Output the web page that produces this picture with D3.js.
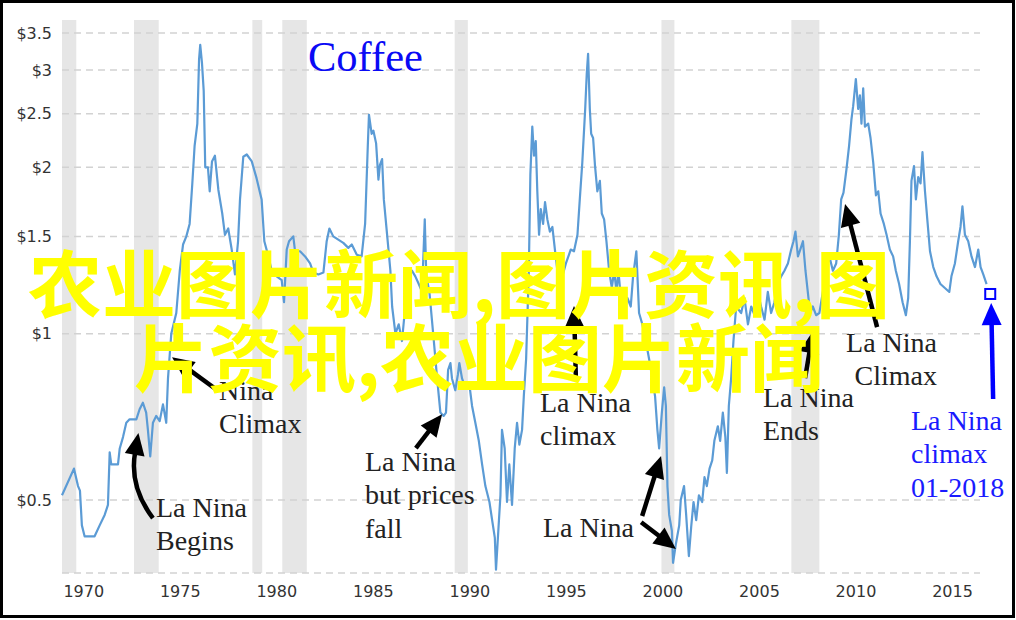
<!DOCTYPE html>
<html><head><meta charset="utf-8">
<script src="https://cdn.jsdelivr.net/npm/d3@7"></script>
<style>html,body{margin:0;padding:0;background:#fff;}svg{display:block;}</style>
</head><body>
<svg id="chart" width="1016" height="620"></svg>
<script>
// ---------- data ----------
const years = [1968.90,1969.52,1969.73,1969.83,1969.93,1970.07,1970.59,1970.85,1971.11,1971.28,1971.37,1971.45,1971.80,1971.89,1972.06,1972.23,1972.40,1972.75,1972.92,1973.09,1973.26,1973.35,1973.47,1973.61,1973.78,1973.96,1974.13,1974.30,1974.39,1974.56,1974.82,1975.00,1975.17,1975.34,1975.51,1975.65,1975.77,1975.91,1976.00,1976.06,1976.15,1976.24,1976.32,1976.46,1976.55,1976.67,1976.82,1977.00,1977.20,1977.34,1977.51,1977.69,1977.86,1978.02,1978.12,1978.29,1978.47,1978.73,1978.98,1979.24,1979.38,1979.59,1979.76,1980.02,1980.28,1980.40,1980.54,1980.66,1980.88,1980.97,1981.23,1981.49,1981.75,1981.92,1982.18,1982.44,1982.61,1982.75,1982.95,1983.21,1983.47,1983.73,1983.91,1984.17,1984.42,1984.60,1984.74,1984.80,1984.94,1985.03,1985.17,1985.29,1985.37,1985.48,1985.57,1985.74,1985.91,1986.00,1986.17,1986.34,1986.51,1986.68,1986.86,1987.03,1987.20,1987.38,1987.55,1987.69,1987.77,1987.93,1988.16,1988.33,1988.50,1988.67,1988.79,1988.90,1989.02,1989.10,1989.27,1989.41,1989.48,1989.62,1989.79,1990.00,1990.14,1990.31,1990.49,1990.66,1990.83,1991.04,1991.18,1991.32,1991.38,1991.49,1991.61,1991.69,1991.83,1991.95,1992.07,1992.21,1992.35,1992.47,1992.59,1992.73,1992.82,1992.94,1993.08,1993.16,1993.26,1993.35,1993.44,1993.52,1993.61,1993.70,1993.82,1993.92,1994.04,1994.17,1994.30,1994.44,1994.56,1994.82,1995.00,1995.13,1995.25,1995.42,1995.60,1995.72,1995.85,1996.00,1996.08,1996.15,1996.24,1996.31,1996.41,1996.51,1996.63,1996.76,1996.86,1996.98,1997.10,1997.24,1997.38,1997.50,1997.62,1997.72,1997.85,1998.02,1998.19,1998.36,1998.48,1998.65,1998.79,1998.96,1999.14,1999.31,1999.48,1999.62,1999.74,1999.83,1999.97,2000.09,2000.18,2000.26,2000.35,2000.49,2000.55,2000.69,2000.87,2000.95,2001.12,2001.23,2001.37,2001.49,2001.61,2001.75,2001.89,2002.06,2002.18,2002.30,2002.44,2002.58,2002.69,2002.87,2002.99,2003.13,2003.26,2003.34,2003.44,2003.56,2003.68,2003.82,2004.08,2004.25,2004.43,2004.60,2004.77,2004.94,2005.11,2005.29,2005.46,2005.63,2005.80,2005.98,2006.15,2006.32,2006.50,2006.67,2006.79,2006.89,2007.02,2007.14,2007.28,2007.41,2007.53,2007.65,2007.79,2007.96,2008.13,2008.31,2008.48,2008.65,2008.83,2009.00,2009.14,2009.26,2009.38,2009.53,2009.67,2009.79,2009.88,2010.02,2010.14,2010.23,2010.31,2010.40,2010.49,2010.66,2010.78,2010.92,2011.06,2011.18,2011.30,2011.47,2011.61,2011.78,2011.95,2012.09,2012.26,2012.44,2012.61,2012.73,2012.82,2012.90,2013.03,2013.13,2013.25,2013.37,2013.47,2013.60,2013.72,2013.86,2014.03,2014.20,2014.40,2014.63,2014.86,2014.97,2015.15,2015.32,2015.44,2015.54,2015.67,2015.84,2016.01,2016.19,2016.36,2016.48,2016.62,2016.79];
const prices = [0.51,0.57,0.53,0.52,0.45,0.43,0.43,0.45,0.47,0.49,0.61,0.58,0.58,0.62,0.65,0.69,0.70,0.70,0.73,0.75,0.72,0.67,0.60,0.69,0.71,0.695,0.745,0.69,0.83,1.00,1.09,1.30,1.45,1.50,1.58,1.87,2.19,2.40,3.14,3.33,3.09,2.75,2.00,2.00,1.81,2.05,2.10,1.82,1.65,1.51,1.55,1.42,1.28,1.47,1.75,2.09,2.11,2.05,1.91,1.75,1.47,1.38,1.30,1.27,1.25,1.14,1.42,1.47,1.50,1.41,1.41,1.38,1.34,1.29,1.28,1.29,1.47,1.55,1.50,1.48,1.46,1.43,1.45,1.39,1.38,1.58,2.19,2.49,2.30,2.33,2.21,1.90,2.02,2.07,1.75,1.51,1.30,1.12,1.00,1.04,0.97,1.12,1.27,1.30,1.27,1.23,1.19,1.61,1.27,1.19,0.97,0.83,0.72,0.71,0.72,0.86,0.885,0.83,0.79,0.845,0.885,0.83,0.80,0.81,0.74,0.69,0.64,0.58,0.53,0.496,0.46,0.427,0.374,0.434,0.51,0.67,0.62,0.496,0.58,0.49,0.62,0.69,0.63,0.67,0.77,0.90,1.30,1.94,2.37,2.10,2.23,1.81,1.51,1.68,1.58,1.73,1.61,1.53,1.56,1.41,1.30,1.27,1.34,1.38,1.42,1.41,1.51,1.75,2.04,2.55,2.95,3.21,2.55,2.30,2.26,2.01,1.81,1.89,1.65,1.61,1.47,1.30,1.21,1.30,1.19,1.30,1.16,1.11,1.16,1.12,1.27,1.41,1.09,1.04,0.97,0.90,0.83,0.77,0.67,0.62,0.72,0.80,0.74,0.53,0.47,0.44,0.385,0.415,0.45,0.50,0.53,0.47,0.396,0.447,0.496,0.46,0.51,0.496,0.55,0.53,0.57,0.59,0.64,0.68,0.64,0.72,0.65,0.56,0.74,0.83,0.97,1.12,1.09,1.16,1.04,1.12,1.08,1.19,1.12,1.06,1.19,1.09,1.14,1.23,1.27,1.30,1.34,1.42,1.47,1.53,1.38,1.42,1.47,1.30,1.19,1.09,1.12,1.08,1.09,1.19,1.30,1.38,1.30,1.34,1.51,1.75,1.80,1.98,2.19,2.44,2.58,2.89,2.55,2.70,2.40,2.78,2.37,2.40,2.26,2.04,1.78,1.81,1.65,1.58,1.51,1.42,1.38,1.30,1.23,1.14,1.08,1.16,1.47,1.89,2.01,1.75,1.92,1.87,2.13,1.81,1.61,1.41,1.32,1.27,1.23,1.21,1.19,1.27,1.34,1.47,1.56,1.70,1.51,1.47,1.38,1.32,1.42,1.32,1.28,1.23];
const recessionStarts = [1968.70,1972.63,1978.76,1980.31,1989.24,1999.95,2006.68];
const recessionEnds   = [1969.64,1973.91,1979.27,1981.58,1989.92,2000.62,2008.13];
const yTickValues = [0.5,1,1.5,2,2.5,3,3.5];
const yTickLabels = ["$0.5","$1","$1.5","$2","$2.5","$3","$3.5"];
const xTickValues = [1970,1975,1980,1985,1990,1995,2000,2005,2010,2015];
const xTickLabels = ["1970","1975","1980","1985","1990","1995","2000","2005","2010","2015"];
const lastMarkerYear = 2016.98, lastMarkerPrice = 1.18;
const chartTitle = "Coffee";
const overlayLines = ["农业图片新闻,图片资讯,图","片资讯,农业图片新闻"];

// annotations: arrow tail / tip in data coordinates
const arrows = [
  {tail:[1973.61,0.464], ctrl:[1972.37,0.528], tip:[1972.86,0.661], color:"#000"},
  {tail:[1976.93,0.791], tip:[1974.60,0.907], color:"#000"},
  {tail:[1987.23,0.621], tip:[1988.59,0.715], color:"#000"},
  {tail:[1995.52,0.824], tip:[1995.42,1.122], color:"#000"},
  {tail:[1998.95,0.468], tip:[1999.93,0.601], color:"#000"},
  {tail:[1998.90,0.456], tip:[2000.70,0.408], color:"#000"},
  {tail:[2007.39,0.831], tip:[2007.80,1.011], color:"#000"},
  {tail:[2011.12,1.028], tip:[2009.46,1.716], color:"#000"},
  {tail:[2017.13,0.762], tip:[2017.03,1.136], color:"#0000ff"}
];
const labels = [
  {lines:["La Nina","Begins"], x:156, y:517, anchor:"start", color:"#222"},
  {lines:["Nina","Climax"], x:219, y:400, anchor:"start", color:"#222"},
  {lines:["La Nina","but prices","fall"], x:365, y:471, anchor:"start", color:"#222"},
  {lines:["La Nina","climax"], x:540, y:412, anchor:"start", color:"#222"},
  {lines:["La Nina"], x:543, y:537, anchor:"start", color:"#222"},
  {lines:["La Nina","Ends"], x:763, y:407, anchor:"start", color:"#222"},
  {lines:["La Nina","Climax"], x:937, y:352, anchor:"end", color:"#222"},
  {lines:["La Nina","climax","01-2018"], x:911, y:430, anchor:"start", color:"#1a1aff"}
];

// ---------- drawing ----------
const svg = d3.select("#chart");
const plot = {left:62, right:980, top:20, bottom:573};
const x = d3.scaleLinear().domain([1968.9, 2016.45]).range([plot.left, plot.right]);
const y = d3.scaleLog().domain([0.369, 3.695]).range([plot.bottom, plot.top]);

svg.append("rect").attr("width",1016).attr("height",620).attr("fill","#fff");

// recession bands
const bands = recessionStarts.map((s,i)=>({s:Math.max(s,x.domain()[0]), e:recessionEnds[i]}));
svg.append("g").selectAll("rect").data(bands).join("rect")
  .attr("x",d=>x(d.s)).attr("width",d=>x(d.e)-x(d.s))
  .attr("y",plot.top).attr("height",plot.bottom-plot.top)
  .attr("fill","#e6e6e6");

// gridlines
const grid = svg.append("g");
grid.selectAll("line").data(yTickValues).join("line")
  .attr("x1",plot.left).attr("x2",plot.right)
  .attr("y1",d=>y(d)).attr("y2",d=>y(d))
  .attr("stroke","#d2d2d2").attr("stroke-width",1.5).attr("stroke-dasharray","7,5");
grid.append("line").attr("x1",plot.left).attr("x2",plot.right)
  .attr("y1",plot.bottom).attr("y2",plot.bottom)
  .attr("stroke","#d2d2d2").attr("stroke-width",1.5).attr("stroke-dasharray","7,5");

// axes
const yAxis = d3.axisLeft(y).tickValues(yTickValues)
  .tickFormat((d,i)=>yTickLabels[i]).tickSize(0).tickPadding(10);
const gy = svg.append("g").attr("transform",`translate(${plot.left},0)`).call(yAxis);
const xAxis = d3.axisBottom(x).tickValues(xTickValues)
  .tickFormat((d,i)=>xTickLabels[i]).tickSize(0).tickPadding(12.5);
const gx = svg.append("g").attr("transform",`translate(0,${plot.bottom})`).call(xAxis);
[gx,gy].forEach(g=>{
  g.select(".domain").remove();
  g.selectAll("text").attr("font-family","'DejaVu Sans', Verdana, sans-serif")
   .attr("font-size",16).attr("fill","#333");
});

// price line
const series = years.map((yr,i)=>({year:yr, price:prices[i]}));
svg.append("path").datum(series)
  .attr("fill","none").attr("stroke","#5b9bd5").attr("stroke-width",2.2)
  .attr("stroke-linejoin","round")
  .attr("d", d3.line().x(d=>x(d.year)).y(d=>y(d.price)));

// last value marker
svg.append("rect")
  .attr("x", x(lastMarkerYear)-5).attr("y", y(lastMarkerPrice)-5)
  .attr("width",10).attr("height",10)
  .attr("fill","#fff").attr("stroke","#0000ff").attr("stroke-width",2);

// title
svg.append("text").attr("x",308).attr("y",71)
  .attr("font-family","'Liberation Serif','Times New Roman',serif")
  .attr("font-size",42.5).attr("fill","#0a0af5").text(chartTitle);

// arrows
const ag = svg.append("g");
arrows.forEach(a=>{
  const t=[x(a.tail[0]),y(a.tail[1])], p=[x(a.tip[0]),y(a.tip[1])];
  const from = a.ctrl ? [x(a.ctrl[0]),y(a.ctrl[1])] : t;
  let dx=p[0]-from[0], dy=p[1]-from[1]; const len=Math.hypot(dx,dy); dx/=len; dy/=len;
  const L=22, Wd=20;
  const b=[p[0]-dx*L, p[1]-dy*L];
  const b2=[b[0]+dx*3, b[1]+dy*3];
  const path = a.ctrl ? `M${t[0]},${t[1]}Q${from[0]},${from[1]} ${b2[0]},${b2[1]}`
                      : `M${t[0]},${t[1]}L${b2[0]},${b2[1]}`;
  ag.append("path").attr("d",path).attr("fill","none").attr("stroke",a.color)
    .attr("stroke-width",4.5).attr("stroke-linecap","butt");
  const nx=-dy, ny=dx;
  ag.append("polygon").attr("points",
    [[p[0],p[1]],[b[0]+nx*Wd/2,b[1]+ny*Wd/2],[b[0]-nx*Wd/2,b[1]-ny*Wd/2]].map(q=>q.join(",")).join(" "))
    .attr("fill",a.color);
});

// labels
const lg = svg.append("g").attr("font-family","'Liberation Serif','Times New Roman',serif").attr("font-size",28);
labels.forEach(l=>{
  const t = lg.append("text").attr("text-anchor",l.anchor).attr("fill",l.color);
  l.lines.forEach((s,i)=>t.append("tspan").attr("x",l.x).attr("y",l.y+i*33.3).text(s));
});

// overlay text
const og = svg.append("g").attr("font-family","'Noto Sans CJK SC','Noto Sans CJK JP',sans-serif")
  .attr("font-size",74).attr("font-weight",700).attr("fill","#ffff00");
og.append("text").attr("x",28).attr("y",312).text(overlayLines[0]);
og.append("text").attr("x",134).attr("y",386).text(overlayLines[1]);

// frame
svg.append("rect").attr("x",1.5).attr("y",1.5).attr("width",1012).attr("height",615)
  .attr("fill","none").attr("stroke","#000").attr("stroke-width",3);
</script>
</body></html>
